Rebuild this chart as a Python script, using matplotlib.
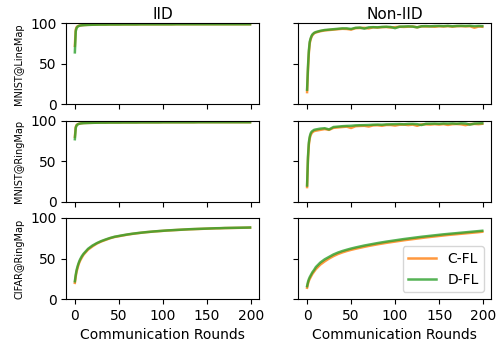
import matplotlib.pyplot as plt

rounds = [0, 1, 2, 3, 4, 5, 6, 8, 10, 15, 20, 25, 30, 35, 40, 45, 50, 55, 60, 65,
          70, 75, 80, 85, 90, 95, 100, 105, 110, 115, 120, 125, 130, 135, 140, 145,
          150, 155, 160, 165, 170, 175, 180, 185, 190, 195, 199]

# MNIST@LineMap, IID
line_iid_cfl = [72, 92, 95, 96, 96.5, 96.9, 97.1, 97.4, 97.6, 97.9, 98.0, 98.1, 98.2, 98.2, 98.3, 98.3,
                98.3, 98.4, 98.4, 98.4, 98.4, 98.5, 98.5, 98.5, 98.5, 98.5, 98.5, 98.5, 98.5, 98.6,
                98.6, 98.6, 98.6, 98.6, 98.6, 98.6, 98.6, 98.6, 98.6, 98.6, 98.6, 98.6, 98.6, 98.6,
                98.6, 98.6, 98.6]
line_iid_dfl = [64, 90, 94, 95.5, 96.2, 96.7, 97.0, 97.3, 97.5, 97.8, 98.0, 98.1, 98.2, 98.2, 98.3, 98.3,
                98.3, 98.4, 98.4, 98.4, 98.4, 98.5, 98.5, 98.5, 98.5, 98.5, 98.5, 98.5, 98.5, 98.6,
                98.6, 98.6, 98.6, 98.6, 98.6, 98.6, 98.6, 98.6, 98.6, 98.6, 98.6, 98.6, 98.6, 98.6,
                98.6, 98.6, 98.6]

# MNIST@LineMap, Non-IID
line_non_cfl = [15, 42, 63, 75, 80, 83, 85, 87.5, 88.5, 90, 91, 91.5, 92, 92.5, 93, 92.8, 92, 93.8,
                94, 94.2, 93.5, 94.8, 94.5, 95, 95.2, 94.6, 95, 95.5, 95.3, 95.6, 95.8, 94.8, 96,
                95.8, 96, 95.5, 96.2, 95.8, 96.3, 95.6, 96.2, 96.3, 96, 96.2, 94.3, 95.8, 95.5]
line_non_dfl = [18, 46, 66, 77, 81, 84, 86, 88, 89, 90.5, 91.5, 92, 92.5, 93, 93.5, 93.5, 92.8, 94.2,
                94.5, 93.2, 94.8, 95, 94.8, 95.3, 95.5, 95.2, 93.8, 95.6, 95.8, 96, 95.7, 94.8, 96.1,
                96.3, 96, 96.4, 96.5, 96.3, 96.6, 96.1, 96.5, 96.6, 96.5, 96.7, 96.2, 96.5, 96.3]

# MNIST@RingMap, IID
ring_iid_cfl = [80, 92, 94.5, 95.3, 95.8, 96.1, 96.4, 96.7, 96.9, 97.1, 97.2, 97.3, 97.4, 97.4, 97.5,
                97.5, 97.5, 97.6, 97.6, 97.6, 97.6, 97.7, 97.7, 97.7, 97.7, 97.7, 97.8, 97.8, 97.8,
                97.8, 97.8, 97.8, 97.8, 97.8, 97.9, 97.9, 97.9, 97.9, 97.9, 97.9, 97.9, 97.9, 97.9,
                97.9, 97.9, 97.9, 97.9]
ring_iid_dfl = [77, 91, 94, 95, 95.7, 96, 96.3, 96.6, 96.8, 97.0, 97.2, 97.3, 97.4, 97.4, 97.5,
                97.5, 97.5, 97.6, 97.6, 97.6, 97.6, 97.7, 97.7, 97.7, 97.7, 97.7, 97.8, 97.8, 97.8,
                97.8, 97.8, 97.8, 97.8, 97.8, 97.9, 97.9, 97.9, 97.9, 97.9, 97.9, 97.9, 97.9, 97.9,
                97.9, 97.9, 97.9, 97.9]

# MNIST@RingMap, Non-IID
ring_non_cfl = [18, 52, 70, 78, 82, 84, 85.5, 87, 87.5, 88.5, 89.5, 88.5, 91, 91.5, 92, 92.5, 90.8, 93,
                93.3, 93.5, 92.6, 94, 94.2, 93.5, 94.5, 94.5, 93.8, 94.8, 95, 94.4, 95, 93.5, 95.2,
                95.3, 95, 95.5, 95, 95.6, 94.6, 95.5, 95.7, 95.3, 94.3, 95.6, 95.8, 95.5, 96]
ring_non_dfl = [20, 55, 73, 80, 84, 86, 87, 88.5, 89, 90, 90.5, 89, 92, 92.5, 93, 93.3, 93.5, 94,
                94.2, 94.3, 94.5, 94.8, 95, 94.8, 95.2, 95.3, 95.5, 95.6, 95.3, 95.8, 95.8, 95.5,
                94.5, 96, 96.1, 96.2, 96, 96.3, 96.2, 96.4, 96, 96.5, 96.3, 95, 96.2, 96.5, 96.6]

# CIFAR@RingMap, IID
cifar_iid_cfl = [20, 28, 34, 38, 42, 45, 47.5, 51.5, 55, 61, 65, 68.5, 71, 73, 75, 76.5, 77.5, 78.5,
                 79.5, 80.3, 81, 81.7, 82.3, 82.8, 83.3, 83.7, 84.1, 84.5, 84.8, 85.1, 85.4, 85.7,
                 86, 86.2, 86.4, 86.6, 86.8, 87, 87.2, 87.3, 87.5, 87.6, 87.7, 87.8, 87.9, 88, 88.1]
cifar_iid_dfl = [22, 30, 36, 40, 43.5, 46.5, 49, 53, 56, 62, 66, 69, 71.5, 73.5, 75.3, 76.8, 77.8, 78.8,
                 79.7, 80.5, 81.2, 81.8, 82.4, 82.9, 83.4, 83.8, 84.2, 84.6, 84.9, 85.2, 85.5, 85.8,
                 86.1, 86.3, 86.5, 86.7, 86.9, 87.1, 87.3, 87.4, 87.6, 87.7, 87.8, 87.9, 88, 88.1, 88.2]

# CIFAR@RingMap, Non-IID
cifar_non_cfl = [14, 19, 22.5, 25, 27, 29, 31, 34, 37, 42.5, 46.5, 50, 53, 55.5, 57.5, 59.2, 60.7,
                 62, 63.2, 64.4, 65.5, 66.5, 67.5, 68.4, 69.3, 70.1, 70.9, 71.7, 72.5, 73.2, 73.9,
                 74.6, 75.3, 76, 76.6, 77.2, 77.8, 78.4, 79, 79.5, 80, 80.5, 81, 81.5, 82, 82.5, 83]
cifar_non_dfl = [16, 21, 24.5, 27, 29, 31, 33, 36, 39.5, 45, 49, 52, 55, 57.3, 59.2, 60.8, 62.3,
                 63.6, 64.8, 66, 67, 68, 69, 69.9, 70.8, 71.6, 72.4, 73.2, 74, 74.7, 75.4,
                 76.1, 76.8, 77.4, 78, 78.6, 79.2, 79.8, 80.3, 80.8, 81.3, 81.8, 82.3, 82.8,
                 83.3, 83.8, 84.2]

row_labels = ["MNIST@LineMap", "MNIST@RingMap", "CIFAR@RingMap"]
col_titles = ["IID", "Non-IID"]
panels = [[(line_iid_cfl, line_iid_dfl), (line_non_cfl, line_non_dfl)],
          [(ring_iid_cfl, ring_iid_dfl), (ring_non_cfl, ring_non_dfl)],
          [(cifar_iid_cfl, cifar_iid_dfl), (cifar_non_cfl, cifar_non_dfl)]]

fig, axes = plt.subplots(3, 2, figsize=(4.97, 3.45), dpi=100, sharex=True, sharey='row')
fig.subplots_adjust(left=0.133, right=0.988, top=0.933, bottom=0.133, wspace=0.205, hspace=0.2)

for r in range(3):
    for c in range(2):
        ax = axes[r][c]
        cfl, dfl = panels[r][c]
        ax.plot(rounds, cfl, color='#ff7f0e', lw=1.8, alpha=0.8, label='C-FL')
        ax.plot(rounds, dfl, color='#2ca02c', lw=1.8, alpha=0.8, label='D-FL')
        ax.set_ylim(0, 100)
        ax.set_yticks([0, 50, 100])
        ax.set_xticks([0, 50, 100, 150, 200])
        if r == 0:
            ax.set_title(col_titles[c], fontsize=11, pad=3)
        if c == 0:
            ax.set_ylabel(row_labels[r], fontsize=7)
        if r == 2:
            ax.set_xlabel("Communication Rounds")

axes[2][1].legend(loc='lower right')

plt.savefig("out.png")
